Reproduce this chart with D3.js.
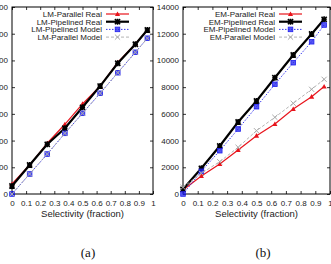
<!DOCTYPE html>
<html>
<head>
<meta charset="utf-8">
<script src="https://cdn.jsdelivr.net/npm/d3@7"></script>
<style>
  body { margin: 0; background: #fff; }
  svg { display: block; font-family: "Liberation Sans", Arial, sans-serif; }
</style>
</head>
<body>
<div id="chart"></div>
<script>
// selectivity values (x) shared by both panels
const selectivity = [0, 0.125, 0.25, 0.375, 0.5, 0.625, 0.75, 0.875, 0.96];
const xTicks = [0, 0.1, 0.2, 0.3, 0.4, 0.5, 0.6, 0.7, 0.8, 0.9, 1];

// panel (a)
const lmTicks = [0, 200, 400, 600, 800, 1000, 1200, 1400];
const lmParallelReal = [75, 217, 380, 522, 674, 808, 986, 1123, 1228];
const lmPipelinedReal = [60, 217, 372, 492, 649, 808, 979, 1121, 1228];
const lmPipelinedModel = [0, 150, 299, 454, 604, 754, 908, 1061, 1166];
const lmParallelModel = [0, 150, 299, 454, 604, 754, 908, 1061, 1166];

// panel (b)
const emTicks = [0, 2000, 4000, 6000, 8000, 10000, 12000, 14000];
const emParallelReal = [300, 1348, 2246, 3294, 4365, 5240, 6363, 7285, 8050];
const emPipelinedReal = [352, 1924, 3594, 5390, 6963, 8707, 10406, 11979, 13079];
const emPipelinedModel = [0, 1700, 3242, 4866, 6536, 8213, 9830, 11400, 12652];
const emParallelModel = [500, 1550, 2418, 3496, 4739, 5742, 6790, 7838, 8587];

const svg = d3.select('#chart').append('svg')
    .attr('width', 331)
    .attr('height', 264);

const styles = [
  {color: '#e8141c', width: 1.2, dash: null, marker: 'triangle'},
  {color: '#000000', width: 2.2, dash: null, marker: 'star'},
  {color: '#2020ee', width: 0.9, dash: '1.5 1.5', marker: 'square'},
  {color: '#aaaaaa', width: 0.9, dash: '3 2', marker: 'cross'},
];

const drawMarker = (g, type, x, y, color) => {
  const s = 2.6;
  if (type === 'triangle') {
    g.append('path')
        .attr('d', `M${x},${y - s}L${x + s},${y + s * 0.8}L${x - s},${y + s * 0.8}Z`)
        .attr('fill', color);
  } else if (type === 'star') {
    g.append('path')
        .attr('d', `M${x - s},${y - s}L${x + s},${y + s}M${x - s},${y + s}L${x + s},${y - s}` +
          `M${x},${y - s - 0.4}L${x},${y + s + 0.4}M${x - s},${y}L${x + s},${y}`)
        .attr('stroke', color).attr('stroke-width', 1.6).attr('fill', 'none');
  } else if (type === 'square') {
    g.append('rect')
        .attr('x', x - 2.3).attr('y', y - 2.3)
        .attr('width', 4.6).attr('height', 4.6)
        .attr('fill', color).attr('fill-opacity', 0.75)
        .attr('stroke', color).attr('stroke-width', 0.8);
  } else {
    g.append('path')
        .attr('d', `M${x - s},${y - s}L${x + s},${y + s}M${x - s},${y + s}L${x + s},${y - s}`)
        .attr('stroke', color).attr('stroke-width', 1).attr('fill', 'none');
  }
};

const drawPanel = (opts) => {
  const x = d3.scaleLinear().domain([0, 1]).range([opts.left, opts.right]);
  const y = d3.scaleLinear().domain([0, opts.yMax]).range([opts.bottom, opts.top]);
  const g = svg.append('g');

  const fixAxis = (sel) => {
    sel.select('.domain').remove();
    sel.selectAll('.tick line').attr('stroke', '#000').attr('stroke-width', 0.8);
    sel.selectAll('.tick text').attr('fill', '#222').style('font-size', '8px');
  };

  g.append('g')
      .attr('transform', `translate(0,${opts.bottom})`)
      .call(d3.axisBottom(x).tickValues(xTicks).tickSize(-3).tickPadding(6)
          .tickFormat(d3.format('')))
      .attr('font-family', null)
      .call(fixAxis);
  g.append('g')
      .attr('transform', `translate(0,${opts.top})`)
      .call(d3.axisTop(x).tickValues(xTicks).tickSize(-3).tickFormat(''))
      .call(fixAxis);
  g.append('g')
      .attr('transform', `translate(${opts.left},0)`)
      .call(d3.axisLeft(y).tickValues(opts.ticks).tickSize(-3).tickPadding(4)
          .tickFormat(d3.format('d')))
      .attr('font-family', null)
      .call(fixAxis);
  g.append('g')
      .attr('transform', `translate(${opts.right},0)`)
      .call(d3.axisRight(y).tickValues(opts.ticks).tickSize(-3).tickFormat(''))
      .call(fixAxis);

  g.append('rect')
      .attr('x', opts.left).attr('y', opts.top)
      .attr('width', opts.right - opts.left)
      .attr('height', opts.bottom - opts.top)
      .attr('fill', 'none').attr('stroke', '#000').attr('stroke-width', 1);

  const line = d3.line()
      .x((d) => x(d[0]))
      .y((d) => y(d[1]));

  opts.series.forEach((s, i) => {
    const st = styles[i];
    const pts = selectivity.map((v, j) => [v, s.values[j]]);
    g.append('path')
        .datum(pts)
        .attr('d', line)
        .attr('fill', 'none')
        .attr('stroke', st.color)
        .attr('stroke-width', st.width)
        .attr('stroke-dasharray', st.dash);
    pts.forEach((p) => drawMarker(g, st.marker, x(p[0]), y(p[1]), st.color));

    // legend entry
    const ly = opts.top + 7 + i * 7.7;
    g.append('text')
        .attr('x', opts.legendX)
        .attr('y', ly)
        .attr('dy', '0.35em')
        .attr('text-anchor', 'end')
        .attr('fill', '#222')
        .style('font-size', '8px')
        .text(s.name);
    g.append('line')
        .attr('x1', opts.legendX + 4).attr('x2', opts.legendX + 27)
        .attr('y1', ly).attr('y2', ly)
        .attr('stroke', st.color)
        .attr('stroke-width', st.width)
        .attr('stroke-dasharray', st.dash);
    drawMarker(g, st.marker, opts.legendX + 15.5, ly, st.color);
  });

  g.append('text')
      .attr('x', (opts.left + opts.right) / 2)
      .attr('y', 216.5)
      .attr('text-anchor', 'middle')
      .attr('fill', '#222')
      .style('font-size', '9.5px')
      .text('Selectivity (fraction)');

  g.append('text')
      .attr('x', opts.captionX)
      .attr('y', 257)
      .attr('text-anchor', 'middle')
      .attr('fill', '#111')
      .style('font-family', '"Liberation Serif", "DejaVu Serif", serif')
      .style('font-size', '13px')
      .text(opts.caption);
};

drawPanel({
  left: 12, right: 153, top: 7, bottom: 194,
  yMax: 1400, ticks: lmTicks, legendX: 102, captionX: 88, caption: '(a)',
  series: [
    {name: 'LM-Parallel Real', values: lmParallelReal},
    {name: 'LM-Pipelined Real', values: lmPipelinedReal},
    {name: 'LM-Pipelined Model', values: lmPipelinedModel},
    {name: 'LM-Parallel Model', values: lmParallelModel},
  ],
});

drawPanel({
  left: 183, right: 330, top: 7, bottom: 194,
  yMax: 14000, ticks: emTicks, legendX: 275, captionX: 263, caption: '(b)',
  series: [
    {name: 'EM-Parallel Real', values: emParallelReal},
    {name: 'EM-Pipelined Real', values: emPipelinedReal},
    {name: 'EM-Pipelined Model', values: emPipelinedModel},
    {name: 'EM-Parallel Model', values: emParallelModel},
  ],
});
</script>
</body>
</html>
